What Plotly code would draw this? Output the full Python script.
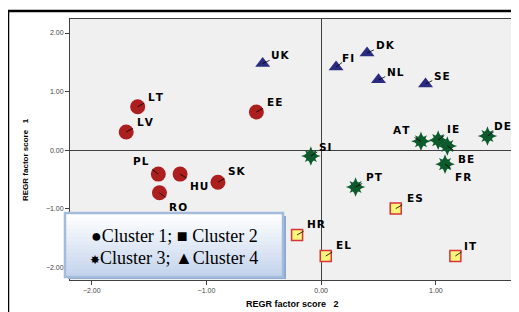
import plotly.graph_objects as go
import math

# ---------------- data ----------------
c1_names = ["LT", "LV", "EE", "PL", "HU", "RO", "SK"]
c1_x = [-1.60, -1.70, -0.565, -1.42, -1.23, -1.41, -0.90]
c1_y = [0.74, 0.31, 0.65, -0.41, -0.41, -0.73, -0.55]

c2_names = ["ES", "HR", "EL", "IT"]
c2_x = [0.65, -0.21, 0.04, 1.17]
c2_y = [-1.00, -1.45, -1.81, -1.81]

c3_names = ["AT", "IE", "BE", "FR", "DE", "SI", "PT"]
c3_x = [0.87, 1.02, 1.10, 1.08, 1.45, -0.09, 0.30]
c3_y = [0.15, 0.17, 0.07, -0.24, 0.24, -0.10, -0.63]

c4_names = ["UK", "FI", "DK", "NL", "SE"]
c4_x = [-0.51, 0.13, 0.40, 0.50, 0.91]
c4_y = [1.48, 1.42, 1.66, 1.20, 1.13]

x_ticks = [-2, -1, 0, 1]
y_ticks = [-2, -1, 0, 1, 2]
x_title = "REGR factor score\u00a0\u00a0\u00a02"
y_title = "REGR factor score\u00a0\u00a0\u00a01"
legend_lines = ["\u25cfCluster 1; \u25a0 Cluster 2",
                "<span style='font-size:12px'>\u2738</span>Cluster 3; \u25b2Cluster 4"]

# label offsets in pixels (style)
offsets = {
    "LT": (18, 10), "LV": (19, 10), "EE": (18, 10), "PL": (-17, 13), "HU": (19, -12),
    "RO": (19, -14), "SK": (19, 11), "UK": (18, 8), "FI": (12, 9), "DK": (18, 8),
    "NL": (17, 8), "SE": (16, 8), "AT": (-19, 11), "IE": (15, 11), "BE": (19, -13),
    "FR": (18, -13), "DE": (15, 10), "SI": (15, 9), "PT": (19, 10), "ES": (19, 11),
    "HR": (19, 11), "EL": (18, 11), "IT": (15, 10),
}

# ---------------- layout geometry ----------------
OFF = 8  # page body margin
W, H = 511, 304
L, R, T, B = 62, 4, 11, 32
xr = [-2.19, 1.69]
yr = [-2.22, 2.24]
pw, ph = W - L - R, H - T - B
sx = pw / (xr[1] - xr[0])
sy = ph / (yr[1] - yr[0])


def px2paper(px, py):
    # px, py are page (screenshot) pixel coordinates
    return (px - OFF - L) / pw, (H - B - (py - OFF)) / ph


fig = go.Figure()

all_names = c1_names + c2_names + c3_names + c4_names
all_x = c1_x + c2_x + c3_x + c4_x
all_y = c1_y + c2_y + c3_y + c4_y

# markers
fig.add_trace(go.Scatter(x=c1_x, y=c1_y, mode="markers",
                         marker=dict(symbol="circle", size=15, color="#ad1f1f", line=dict(width=0))))
fig.add_trace(go.Scatter(x=c2_x, y=c2_y, mode="markers",
                         marker=dict(symbol="square", size=11, color="#fbf57a",
                                     line=dict(width=1.5, color="#d8343a"))))
fig.add_trace(go.Scatter(x=c3_x, y=c3_y, mode="markers",
                         marker=dict(symbol="star-diamond", size=14, color="#0d5a2c", line=dict(width=0))))
fig.add_trace(go.Scatter(x=c3_x, y=c3_y, mode="markers",
                         marker=dict(symbol="star-square", size=11, color="#0d5a2c", line=dict(width=0))))
fig.add_trace(go.Scatter(x=c4_x, y=c4_y, mode="markers",
                         marker=dict(symbol="triangle-up", size=13, color="#2b2c80", line=dict(width=0))))

# leader lines
lx, ly = [], []
for n, x, y in zip(all_names, all_x, all_y):
    dx, dy = offsets[n]
    d = math.hypot(dx, dy)
    ln = 7.5
    lx += [x, x + dx / d * ln / sx, None]
    ly += [y, y + dy / d * ln / sy, None]
fig.add_trace(go.Scatter(x=lx, y=ly, mode="lines", line=dict(color="black", width=0.8)))

# labels
for n, x, y in zip(all_names, all_x, all_y):
    dx, dy = offsets[n]
    fig.add_annotation(x=x, y=y, text="\u200a".join(n), showarrow=False,
                       xshift=dx, yshift=dy,
                       font=dict(family="DejaVu Sans", size=10.5, color="black", weight="bold"))

shapes = []
# outer frame
x0, y0 = px2paper(8, 11)
x1, y1 = px2paper(530, 325)
shapes.append(dict(type="rect", xref="paper", yref="paper", x0=x0, y0=y1, x1=x1, y1=y0,
                   line=dict(color="black", width=2.5), layer="above"))

# legend box with gradient bands
bx0, by0, bx1, by1 = 65, 213, 283, 277
sx0, sy0 = px2paper(bx0 + 3, by0 + 3)
sx1, sy1 = px2paper(bx1 + 3, by1 + 2)
shapes.append(dict(type="rect", xref="paper", yref="paper", x0=sx0, y0=sy1, x1=sx1, y1=sy0,
                   fillcolor="#8ea9cf", line=dict(width=0), layer="above"))
nb = 16
c_top = (255, 255, 255)
c_bot = (196, 212, 236)
for i in range(nb):
    t = i / (nb - 1)
    col = tuple(int(round(c_top[k] + (c_bot[k] - c_top[k]) * t)) for k in range(3))
    yy0 = by0 + (by1 - by0) * i / nb
    yy1 = by0 + (by1 - by0) * (i + 1) / nb
    a0, b0 = px2paper(bx0, yy0)
    a1, b1 = px2paper(bx1, yy1)
    shapes.append(dict(type="rect", xref="paper", yref="paper", x0=a0, y0=b1, x1=a1, y1=b0,
                       fillcolor="rgb(%d,%d,%d)" % col, line=dict(width=0), layer="above"))
a0, b0 = px2paper(bx0, by0)
a1, b1 = px2paper(bx1, by1)
shapes.append(dict(type="rect", xref="paper", yref="paper", x0=a0, y0=b1, x1=a1, y1=b0,
                   line=dict(color="#a3bcdc", width=2.5), layer="above"))

for i, txt in enumerate(legend_lines):
    tx, ty = px2paper(174, 236 + i * 22)
    fig.add_annotation(xref="paper", yref="paper", x=tx, y=ty, text=txt, showarrow=False,
                       xanchor="center", yanchor="middle",
                       font=dict(family="Liberation Serif", size=18, color="black"))

# axis titles
tx, ty = px2paper(292, 304)
fig.add_annotation(xref="paper", yref="paper", x=tx, y=ty, text=x_title, showarrow=False,
                   xanchor="center", yanchor="middle",
                   font=dict(family="Liberation Sans", size=9, color="black", weight="bold"))
tx, ty = px2paper(25, 160)
fig.add_annotation(xref="paper", yref="paper", x=tx, y=ty, text=y_title, showarrow=False,
                   xanchor="center", yanchor="middle", textangle=-90,
                   font=dict(family="Liberation Sans Narrow, Liberation Sans", size=8, color="black", weight="bold"))

axis_common = dict(showgrid=False, zeroline=True, zerolinecolor="#404040", zerolinewidth=1,
                   showline=True, linecolor="#404040", linewidth=1, mirror=True,
                   ticks="outside", ticklen=4, tickcolor="#404040", tickwidth=1,
                   tickformat=".2f", tickfont=dict(family="Liberation Sans", size=7, color="#444"))

fig.update_layout(
    width=W, height=H,
    margin=dict(l=L, r=R, t=T, b=B),
    paper_bgcolor="white", plot_bgcolor="#f0f0f0",
    showlegend=False,
    shapes=shapes,
    xaxis=dict(range=xr, tickvals=x_ticks, **axis_common),
    yaxis=dict(range=yr, tickvals=y_ticks, **axis_common),
)

fig.write_html("out.html")
